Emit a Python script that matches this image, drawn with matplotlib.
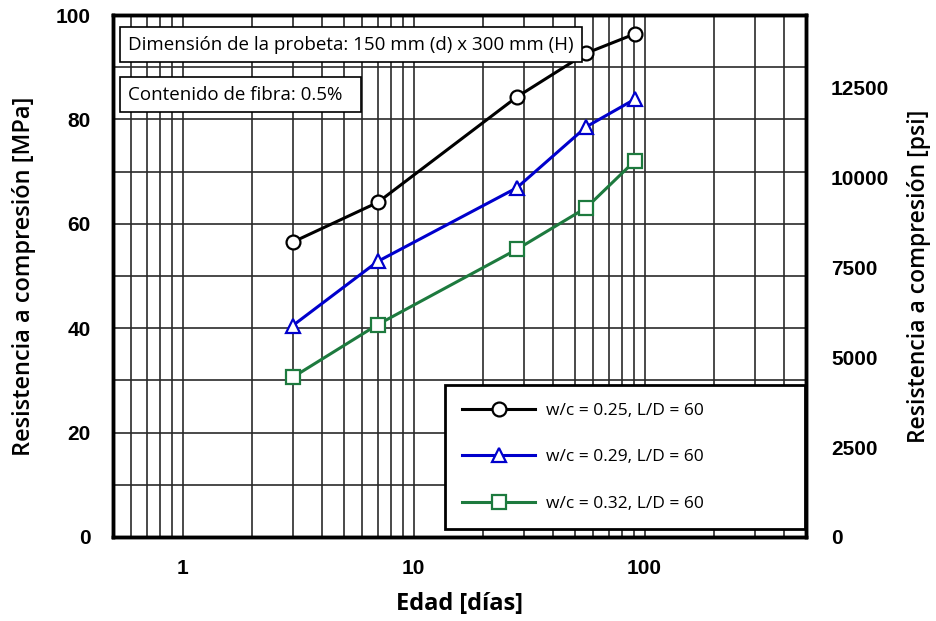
import numpy as np
import matplotlib
matplotlib.use("Agg")
import matplotlib.pyplot as plt
from matplotlib.ticker import LogLocator, FixedLocator, NullFormatter

# edad de ensayo [días]
dias = [3, 7, 28, 56, 91]

# resistencia a compresión [MPa]
wc025 = [56.5, 64.1, 84.3, 92.7, 96.4]
wc029 = [40.5, 52.8, 66.9, 78.6, 83.9]
wc032 = [30.6, 40.7, 55.1, 63.1, 72.1]

etiquetas = ["w/c = 0.25, L/D = 60", "w/c = 0.29, L/D = 60", "w/c = 0.32, L/D = 60"]
psi_ticks = [0, 2500, 5000, 7500, 10000, 12500]
MPA_TO_PSI = 145.038

plt.rcParams['font.family'] = ['Open Sans', 'DejaVu Sans']

fig = plt.figure(figsize=(9.37, 6.21), dpi=100)
ax = fig.add_axes([0.1206, 0.1353, 0.7396, 0.8405])

ax.set_xscale("log")
ax.set_xlim(0.5, 500)
ax.set_ylim(0, 100)

# grid on every log subdivision and every 10 MPa
ax.xaxis.set_major_locator(FixedLocator([1, 10, 100]))
ax.xaxis.set_minor_locator(LogLocator(base=10, subs=np.arange(2, 10)))
ax.xaxis.set_minor_formatter(NullFormatter())
ax.set_xticklabels(["1", "10", "100"])
ax.yaxis.set_major_locator(FixedLocator([0, 20, 40, 60, 80, 100]))
ax.yaxis.set_minor_locator(FixedLocator([10, 30, 50, 70, 90]))
ax.grid(True, which="both", color="#2a2a2a", lw=1.2)
ax.set_axisbelow(True)

estilos = [
    dict(color="black", marker="o", ms=10),
    dict(color="#0000cc", marker="^", ms=10),
    dict(color="#1d7a3e", marker="s", ms=10),
]
for serie, lab, st in zip([wc025, wc029, wc032], etiquetas, estilos):
    ax.plot(dias, serie, color=st["color"], marker=st["marker"], ms=st["ms"],
            mfc="white", mec=st["color"], mew=1.6, lw=2.2, label=lab,
            zorder=5, clip_on=False)

ax.tick_params(which="both", length=0)
ax.tick_params(axis="y", pad=16, labelsize=15)
ax.tick_params(axis="x", pad=16, labelsize=15)
for t in ax.get_yticklabels() + ax.get_xticklabels():
    t.set_fontweight("bold")
    t.set_family(["Liberation Sans", "DejaVu Sans"])

for s in ax.spines.values():
    s.set_linewidth(2.5)
    s.set_color("black")

ax.set_ylabel("Resistencia a compresión [MPa]", fontsize=17, fontweight="semibold", labelpad=14)
ax.set_xlabel("Edad [días]", fontsize=17, fontweight="bold", labelpad=10)

ax2 = ax.twinx()
ax2.set_ylim(0, 100 * MPA_TO_PSI)
ax2.yaxis.set_major_locator(FixedLocator(psi_ticks))
ax2.tick_params(length=0, pad=18, labelsize=15)
for t in ax2.get_yticklabels():
    t.set_fontweight("bold")
    t.set_family(["Liberation Sans", "DejaVu Sans"])
for s in ax2.spines.values():
    s.set_linewidth(2.5)
ax2.set_ylabel("Resistencia a compresión [psi]", fontsize=16.5, fontweight="semibold", labelpad=13)

caja = dict(boxstyle="square,pad=0.45", fc="white", ec="black", lw=1.2)
ax.text(0.022, 0.943, "Dimensión de la probeta: 150 mm (d) x 300 mm (H)",
        transform=ax.transAxes, fontsize=13.5, va="center", ha="left", bbox=caja, zorder=6)
ax.text(0.022, 0.847, "Contenido de fibra: 0.5%  ",
        transform=ax.transAxes, fontsize=13.5, va="center", ha="left", bbox=caja, zorder=6)

leg = ax.legend(loc="upper left", bbox_to_anchor=(0.479, 0.013, 0.519, 0.278), mode="expand",
                borderaxespad=0, fontsize=12.5, handlelength=4.2, labelspacing=1.75,
                borderpad=1.0, handletextpad=0.6, fancybox=False, framealpha=1,
                edgecolor="black")
leg.get_frame().set_linewidth(2.0)
leg.set_zorder(7)

fig.savefig("out.png", dpi=100)
